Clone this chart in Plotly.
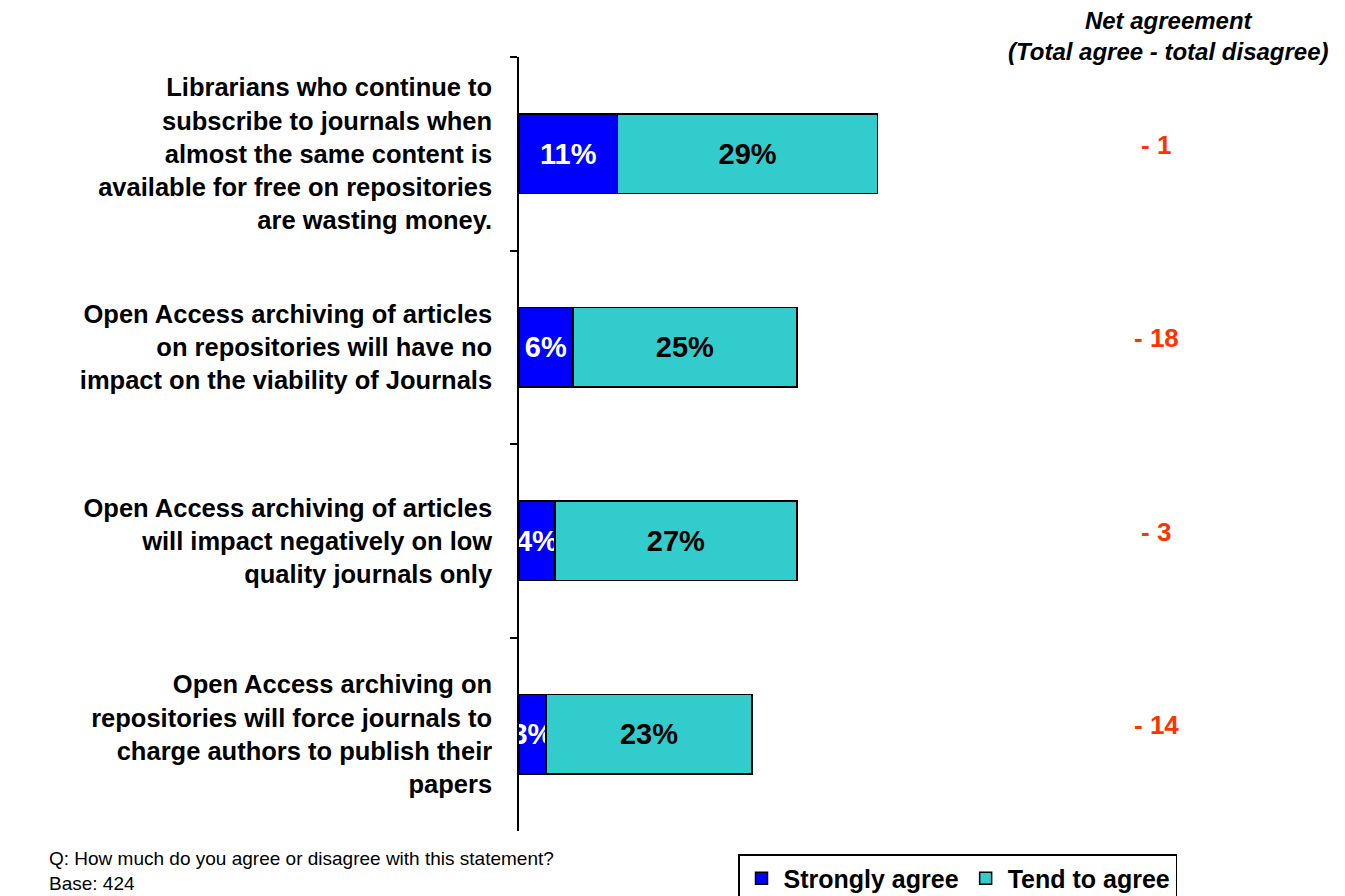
import plotly.graph_objects as go

categories = [
    "Librarians who continue to<br>subscribe to journals when<br>almost the same content is<br>available for free on repositories<br>are wasting money.",
    "Open Access archiving of articles<br>on repositories will have no<br>impact on the viability of Journals",
    "Open Access archiving of articles<br>will impact negatively on low<br>quality journals only",
    "Open Access archiving on<br>repositories will force journals to<br>charge authors to publish their<br>papers",
]
strongly_agree = [11, 6, 4, 3]
tend_to_agree = [29, 25, 27, 23]
net_agreement = [-1, -18, -3, -14]

FONT = "Arial, Liberation Sans, sans-serif"

# plot area in pixels
L, R, T, B = 519, 1057, 57, 831
def px(xp):
    return (xp - L) / (R - L)
def py(yp):
    return (B - yp) / (B - T)

fig = go.Figure()
fig.add_trace(go.Bar(
    y=categories, x=strongly_agree, orientation="h", name="Strongly agree",
    marker=dict(color="#0000FF", line=dict(color="black", width=1.5)),
    text=[f"{v}%" for v in strongly_agree], textposition="inside", textangle=0,
    insidetextanchor="middle", constraintext="none",
    textfont=dict(family=FONT, size=29, color="white", weight="bold"),
    cliponaxis=True,
))
fig.add_trace(go.Bar(
    y=categories, x=tend_to_agree, orientation="h", name="Tend to agree",
    marker=dict(color="#33CCCC", line=dict(color="black", width=1.5)),
    text=[f"{v}%" for v in tend_to_agree], textposition="inside", textangle=0,
    insidetextanchor="middle", constraintext="none",
    textfont=dict(family=FONT, size=29, color="black", weight="bold"),
))

for cat, n in zip(categories, net_agreement):
    fig.add_annotation(
        x=px(1156), xref="paper", xanchor="center", y=cat, yref="y", yshift=9,
        text=f"<b>- {abs(n)}</b>", showarrow=False,
        font=dict(family=FONT, size=26, color="#FF3300"),
    )

fig.add_annotation(
    x=px(1168), xref="paper", xanchor="center",
    y=py(5), yref="paper", yanchor="top",
    text="<b><i>Net agreement<br>(Total agree - total disagree)</i></b>",
    showarrow=False, font=dict(family=FONT, size=24, color="black"),
)
fig.add_annotation(
    x=px(47), xref="paper", xanchor="left",
    y=py(846), yref="paper", yanchor="top",
    text="Q: How much do you agree or disagree with this statement?<br>Base: 424",
    showarrow=False, align="left", font=dict(family=FONT, size=19, color="black"),
)

fig.update_layout(
    barmode="stack", bargap=0.59,
    width=1345, height=896,
    margin=dict(l=L, r=1345 - R, t=T, b=896 - B),
    paper_bgcolor="white", plot_bgcolor="white",
    font=dict(family=FONT, color="black"),
    showlegend=True,
    legend=dict(
        orientation="h", xref="container", x=738 / 1345, xanchor="left",
        yref="container", y=1 - 854 / 896, yanchor="top",
        bordercolor="black", borderwidth=1.5,
        font=dict(family=FONT, size=25, color="black", weight="bold"),
        traceorder="normal", itemwidth=34,
    ),
    xaxis=dict(range=[0, 60], visible=False, fixedrange=True),
    yaxis=dict(
        autorange="reversed", showline=True, linecolor="black", linewidth=1.5,
        ticks="outside", tickson="boundaries", ticklen=7, tickcolor="black",
        tickwidth=1.5, ticklabelstandoff=20, automargin=False, fixedrange=True,
        tickfont=dict(family=FONT, size=25.5, color="black", weight="bold"),
        showgrid=False, zeroline=False,
    ),
)

fig.write_html(
    "out.html",
    config={"displayModeBar": False},
    post_script="document.body.style.margin='0';document.body.style.overflow='hidden';",
)
